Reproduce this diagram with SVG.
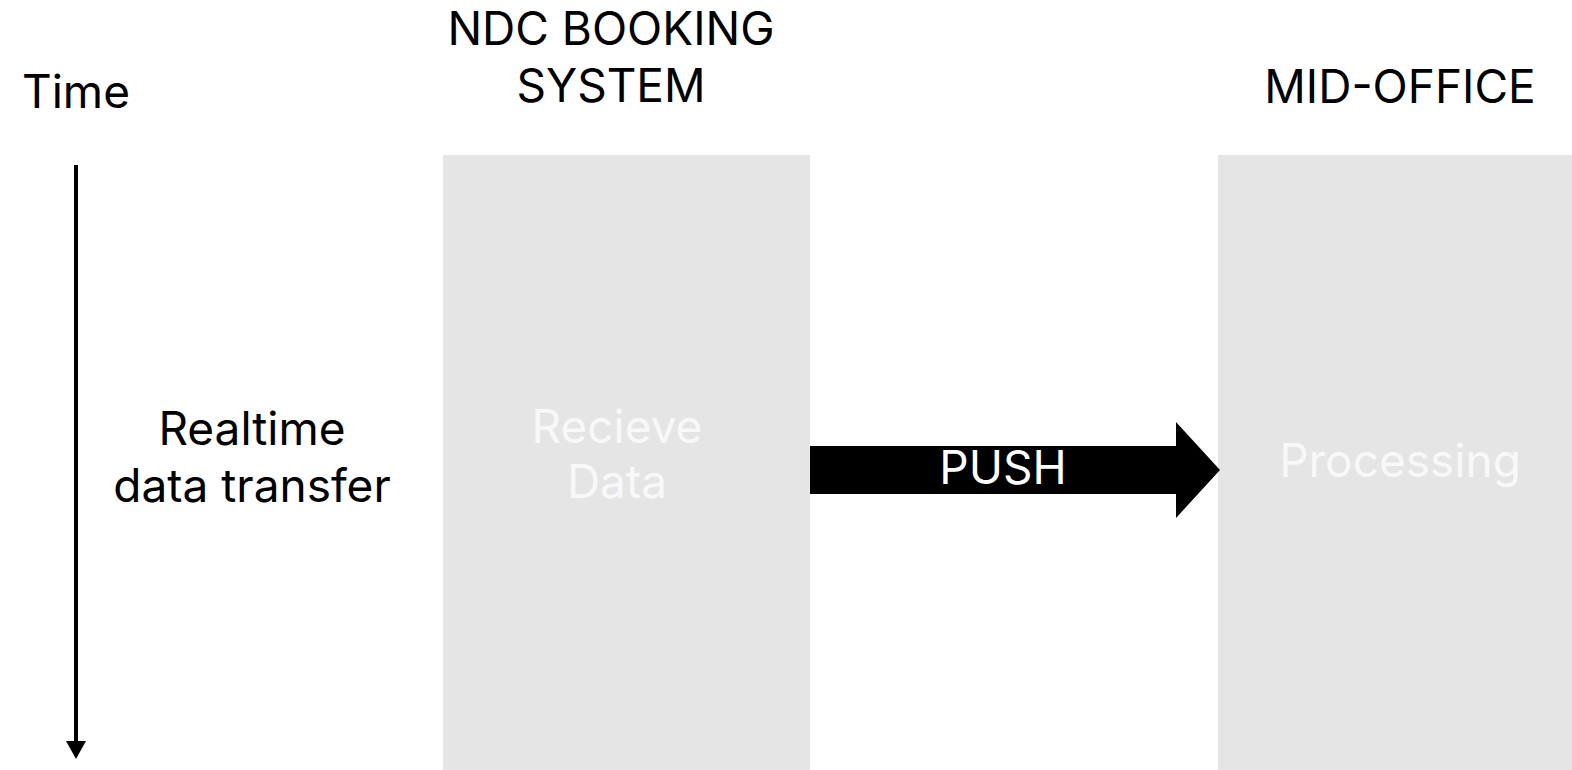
<svg xmlns="http://www.w3.org/2000/svg" width="1572" height="770" viewBox="0 0 1572 770">
<style>
.t{font-family:Inter,"Liberation Sans",sans-serif;font-size:46px;fill:#000;text-anchor:middle}
.w{fill:#f8f8f8}
.box{fill:#e5e5e5}
</style>
<rect width="1572" height="770" fill="#fff"/>
<g id="time-axis">
<text class="t" x="76" y="108">Time</text>
<line x1="76" y1="165" x2="76" y2="742" stroke="#000" stroke-width="4"/>
<path d="M66,741 L86,741 L76,759 z" fill="#000"/>
<text class="t" x="252" y="445">Realtime</text>
<text class="t" x="252" y="502">data transfer</text>
</g>
<g id="ndc">
<text class="t" x="611" y="45">NDC BOOKING</text>
<text class="t" x="611" y="102">SYSTEM</text>
<rect class="box" x="443" y="155" width="367" height="615"/>
<text class="t w" x="617" y="443">Recieve</text>
<text class="t w" x="617" y="498">Data</text>
</g>
<g id="mid-office">
<text class="t" x="1400" y="103">MID-OFFICE</text>
<rect class="box" x="1218" y="155" width="354" height="615"/>
<text class="t w" x="1400" y="477">Processing</text>
</g>
<g id="connectors">
<path d="M810,446 L1176,446 L1176,422 L1220,470 L1176,518 L1176,494 L810,494 z" fill="#000"/>
<text class="t" x="1003" y="484" style="fill:#fff">PUSH</text>
</g>
</svg>
